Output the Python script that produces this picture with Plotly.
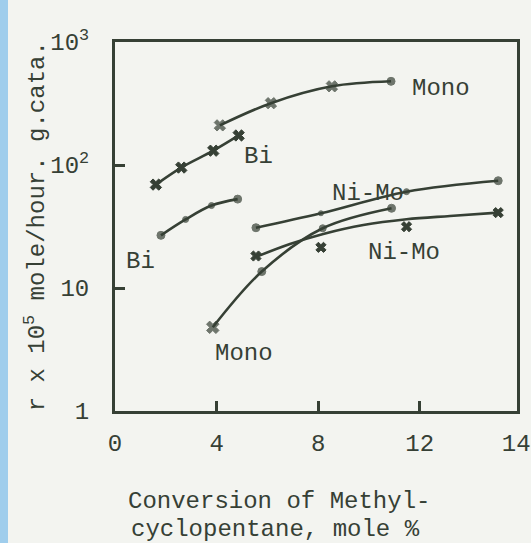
import math
import plotly.graph_objects as go

# ---- data ----
mono_hi_x = [4.13, 6.14, 8.54, 10.87]
mono_hi_y = [210, 318, 436, 479]

bi_hi_x = [1.61, 2.61, 3.87, 4.87]
bi_hi_y = [69.3, 95.3, 130.7, 173.8]

bi_lo_x = [1.81, 2.78, 3.80, 4.83]
bi_lo_y = [26.8, 36.1, 46.8, 52.8]

nimo_hi_x = [5.55, 8.11, 11.48, 15.09]
nimo_hi_y = [30.9, 40.5, 60.7, 74.5]

nimo_lo_x = [5.55, 8.11, 11.48, 15.09]
nimo_lo_y = [18.2, 21.4, 31.5, 41.0]
nimo_lo_curve_x = [5.55, 6.89, 8.20, 9.78, 11.48, 13.19, 15.09]
nimo_lo_curve_y = [17.9, 22.8, 27.5, 32.5, 36.2, 38.5, 41.0]

mono_lo_x = [3.85, 5.78, 8.18, 10.89]
mono_lo_y = [4.79, 13.6, 30.6, 44.5]

x_tick_vals = [0, 4, 8, 12, 15.8]
x_tick_text = ["0", "4", "8", "12", "14"]
y_tick_vals = [1, 10, 100, 1000]
y_tick_text = ["1", "10", "10<sup>2</sup>", "10<sup>3</sup>"]

INK = "#364035"
BG = "#f3f4f0"
FONT = "Liberation Mono"

fig = go.Figure()

def add_series(x, y, symbols, sizes, line=True):
    fig.add_trace(go.Scatter(
        x=x, y=y, mode="lines+markers" if line else "markers",
        line=dict(color=INK, width=2.6, shape="spline", smoothing=1.0),
        marker=dict(symbol=symbols, size=sizes, color=INK,
                    line=dict(width=1, color=INK)),
        showlegend=False, hoverinfo="skip"))

add_series(mono_hi_x, mono_hi_y, ["x", "x", "x", "circle"], [10, 10, 10, 8])
add_series(bi_hi_x, bi_hi_y, "x", 10)
add_series(bi_lo_x, bi_lo_y, "circle", [8, 6, 6, 8])
add_series(nimo_hi_x, nimo_hi_y, "circle", [8, 5, 6, 8])
fig.add_trace(go.Scatter(
    x=nimo_lo_curve_x, y=nimo_lo_curve_y, mode="lines",
    line=dict(color=INK, width=2.6, shape="spline", smoothing=1.0),
    showlegend=False, hoverinfo="skip"))
add_series(nimo_lo_x, nimo_lo_y, "x", 9, line=False)
add_series(mono_lo_x, mono_lo_y, ["x", "circle", "circle", "circle"], [11, 8, 7, 8])

labels = [
    ("Mono", 11.61, 415),
    ("Bi", 5.0, 118),
    ("Ni-Mo", 8.46, 59.2),
    ("Ni-Mo", 9.88, 19.6),
    ("Bi", 0.35, 16.3),
    ("Mono", 3.86, 2.96),
]
for t, lx, ly in labels:
    fig.add_annotation(x=lx, y=math.log10(ly), text=t, showarrow=False,
                       xanchor="left", yanchor="middle",
                       font=dict(family=FONT, size=24, color=INK))

# y axis title (rotated)
fig.add_annotation(xref="paper", yref="paper", x=-0.197, y=0.50,
                   text="r x 10<sup>5</sup> mole/hour. g.cata.",
                   textangle=-90, showarrow=False,
                   xanchor="center", yanchor="middle",
                   font=dict(family=FONT, size=24, color=INK))
# x axis title (two lines, left aligned)
fig.add_annotation(xref="paper", yref="paper", x=0.028, y=-0.244,
                   text="Conversion of Methyl-", showarrow=False,
                   xanchor="left", yanchor="middle",
                   font=dict(family=FONT, size=24, color=INK))
fig.add_annotation(xref="paper", yref="paper", x=0.035, y=-0.322,
                   text="cyclopentane, mole %", showarrow=False,
                   xanchor="left", yanchor="middle",
                   font=dict(family=FONT, size=24, color=INK))

# blue scan edge on the left
fig.add_shape(type="rect", xref="paper", yref="paper",
              x0=-115 / 402, x1=-107 / 402, y0=-132 / 369, y1=1 + 42 / 369,
              fillcolor="#9fcdec", line=dict(width=0), layer="below")

fig.update_xaxes(range=[0, 15.83], tickvals=x_tick_vals, ticktext=x_tick_text,
                 ticks="inside", ticklen=10, tickwidth=2.5, tickcolor=INK,
                 showline=True, linecolor=INK, linewidth=3, mirror=True,
                 showgrid=False, zeroline=False, ticklabelstandoff=8,
                 automargin=False,
                 tickfont=dict(family=FONT, size=24, color=INK))
fig.update_yaxes(type="log", range=[0, 3], tickvals=y_tick_vals, ticktext=y_tick_text,
                 ticks="inside", ticklen=10, tickwidth=2.5, tickcolor=INK,
                 showline=True, linecolor=INK, linewidth=3, mirror=True,
                 showgrid=False, zeroline=False, ticklabelstandoff=18,
                 automargin=False,
                 tickfont=dict(family=FONT, size=24, color=INK))

fig.update_layout(template="none", width=531, height=543,
                  margin=dict(l=115, r=14, t=42, b=132),
                  paper_bgcolor=BG, plot_bgcolor=BG,
                  font=dict(family=FONT, color=INK))

fig.write_html("out.html", config={"displayModeBar": False},
               post_script="document.body.style.margin='0';"
                           "document.body.style.overflow='hidden';")
